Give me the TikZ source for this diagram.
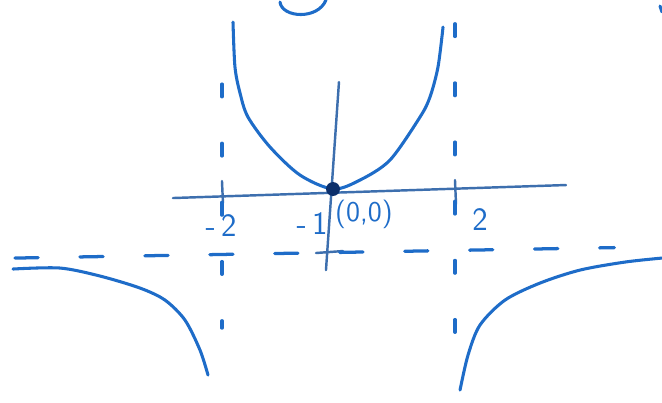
\documentclass[tikz,border=0pt]{standalone}
\usepackage{tikz}
\usetikzlibrary{positioning}
\definecolor{penblue}{HTML}{1E6CC8}
\definecolor{axisblue}{HTML}{3D6FAE}
\definecolor{dotnavy}{HTML}{0B2F6B}
\tikzset{
	axisline/.style={
			draw=axisblue,
			line width=1.2pt,
			line cap=round
		},
	curveline/.style={
			draw=penblue,
			line width=1.5pt,
			line cap=round,
			line join=round
		},
	asymline/.style={
			draw=penblue,
			line width=1.6pt,
			line cap=round,
			dash pattern=on 0.22cm off 0.8cm
		},
	hasymline/.style={
			asymline,
			dash pattern=on 0.4cm off 0.72cm
		},
	labelnode/.style={
			text=penblue,
			font=\sffamily\fontsize{16}{18}\selectfont,
			inner sep=0pt
		}
}
\begin{document}
\begin{tikzpicture}

\useasboundingbox (-5.741,-3.672) rectangle (5.672,3.259);

% axes
\draw[axisline] (-2.759,-0.155) -- (4.017,0.069);
\draw[axisline] (0.103,1.845) -- (-0.121,-1.397);
\draw[axisline] (-1.914,0.138) -- (-1.897,-0.241);
\draw[axisline] (2.103,0.155) -- (2.121,-0.259);
\draw[axisline] (-0.293,-1.103) -- (0.172,-1.069);

% asymptotes
\draw[asymline] (-1.914,1.81) -- (-1.914,-2.397);
\draw[asymline] (2.103,2.85) -- (2.103,-2.5);
\draw[hasymline] (-5.483,-1.19) -- (4.85,-1.01);

% curves
\draw[curveline] plot[smooth] coordinates {(-1.724,2.879) (-1.690,2.103) (-1.603,1.655) (-1.466,1.241) (-1.086,0.724) (-0.569,0.241) (0,0) (0.466,0.155) (0.983,0.5) (1.5,1.241) (1.672,1.586) (1.810,2.103) (1.897,2.793)};
\draw[curveline] plot[smooth] coordinates {(-5.517,-1.379) (-4.707,-1.362) (-4.017,-1.5) (-3.328,-1.707) (-2.897,-1.914) (-2.552,-2.259) (-2.293,-2.776) (-2.155,-3.207)};
\draw[curveline] plot[smooth] coordinates {(2.190,-3.466) (2.328,-2.862) (2.534,-2.345) (2.966,-1.914) (3.569,-1.621) (4.259,-1.397) (5.034,-1.259) (5.672,-1.190)};

% top marks
\draw[curveline] (-0.914,3.224) .. controls (-0.879,2.948) and (-0.259,2.914) .. (-0.121,3.259);
\draw[curveline] (5.638,3.155) -- (5.672,3.052);

\fill[dotnavy] (0,0) circle (0.12);

\node[labelnode] (lM2) at (-1.931,-0.621) {-\,2};
\node[labelnode] (lM1) at (-0.362,-0.603) {-\,1};
\node[labelnode, font=\sffamily\fontsize{14}{16}\selectfont] (lO) at (0.534,-0.431) {(0,0)};
\node[labelnode] (lP2) at (2.534,-0.534) {2};

\end{tikzpicture}
\end{document}
